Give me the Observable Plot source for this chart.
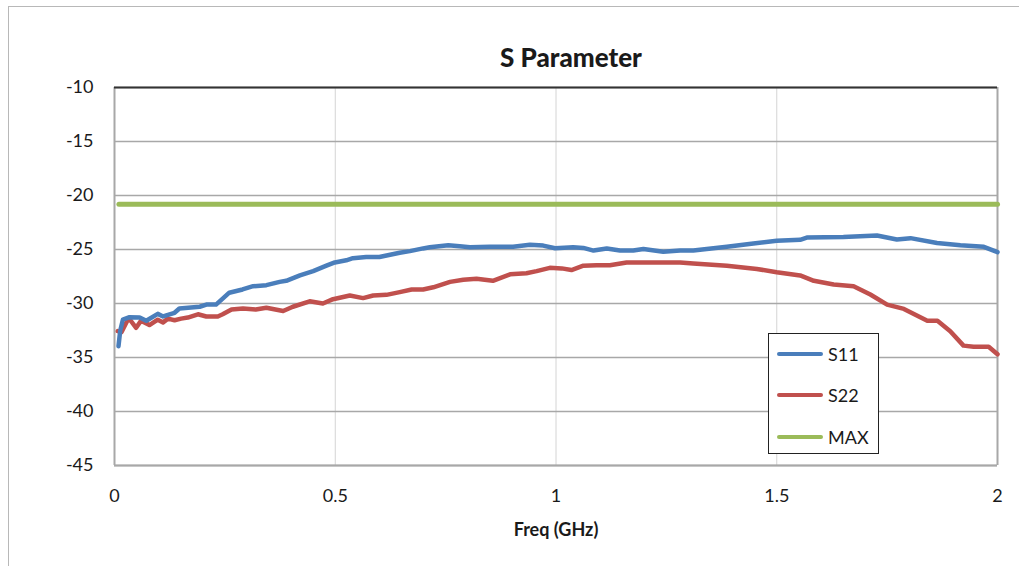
<!DOCTYPE html>
<html>
<head>
<meta charset="utf-8">
<script src="https://cdn.jsdelivr.net/npm/d3@7"></script>
<script src="https://cdn.jsdelivr.net/npm/@observablehq/plot@0.6"></script>
<style>
  html, body { margin: 0; padding: 0; background: #fff; }
  body { width: 1019px; height: 566px; overflow: hidden; position: relative; font-family: Lato, "Open Sans", sans-serif; }
  #border { position: absolute; left: 8px; top: 6px; right: -10px; bottom: -10px; border-left: 1.5px solid #b8b8b8; border-top: 1.5px solid #b8b8b8; }
  #title { position: relative; height: 70px; }
  #title span { position: absolute; left: 571px; top: 40px; transform: translateX(-50%); font-weight: 900; font-size: 26px; color: #1a1a1a; white-space: nowrap; line-height: 34px; }
  #chart { position: relative; }
  #legend { position: absolute; left: 768px; top: 333px; width: 111px; height: 121px; border: 1px solid #222; background: #fff; box-sizing: border-box; }
  .item { position: absolute; left: 8px; height: 20px; display: flex; align-items: center; }
  .swatch { width: 46px; height: 4.5px; border-radius: 2px; margin-right: 5px; }
  .lab { font-size: 18px; color: #1a1a1a; }
</style>
</head>
<body>
<div id="border"></div>
<div id="title"><span>S Parameter</span></div>
<div id="chart"></div>
<div id="legend"></div>
<script>
const xTicks = [0, 0.5, 1, 1.5, 2];
const yTicks = [-45, -40, -35, -30, -25, -20, -15, -10];

const s11Freq = [0.009,0.013,0.019,0.034,0.057,0.072,0.098,0.11,0.136,0.147,0.193,0.208,0.23,0.26,0.29,0.314,0.344,0.374,0.389,0.42,0.45,0.48,0.499,0.525,0.54,0.57,0.60,0.646,0.669,0.699,0.714,0.756,0.782,0.805,0.85,0.903,0.941,0.971,0.998,1.039,1.062,1.085,1.115,1.145,1.175,1.198,1.243,1.281,1.311,1.387,1.447,1.5,1.553,1.568,1.651,1.727,1.772,1.803,1.863,1.916,1.969,2.0];
const s11 = [-33.95,-32.5,-31.5,-31.27,-31.3,-31.6,-30.96,-31.2,-30.86,-30.46,-30.3,-30.1,-30.1,-29.0,-28.7,-28.4,-28.3,-28.0,-27.9,-27.4,-27.0,-26.5,-26.2,-26.0,-25.8,-25.7,-25.7,-25.3,-25.15,-24.9,-24.8,-24.6,-24.7,-24.8,-24.75,-24.75,-24.57,-24.64,-24.88,-24.8,-24.85,-25.1,-24.9,-25.1,-25.1,-24.95,-25.2,-25.1,-25.1,-24.75,-24.44,-24.2,-24.1,-23.9,-23.85,-23.7,-24.07,-23.95,-24.4,-24.6,-24.75,-25.25];

const s22Freq = [0.0075,0.016,0.03,0.036,0.049,0.06,0.079,0.098,0.11,0.121,0.136,0.151,0.166,0.189,0.208,0.234,0.245,0.265,0.291,0.32,0.344,0.382,0.404,0.442,0.472,0.495,0.533,0.563,0.586,0.616,0.646,0.673,0.699,0.722,0.76,0.79,0.82,0.857,0.896,0.933,0.956,0.986,1.013,1.035,1.062,1.092,1.122,1.16,1.198,1.243,1.281,1.311,1.387,1.455,1.5,1.553,1.584,1.629,1.674,1.712,1.75,1.788,1.841,1.864,1.893,1.923,1.946,1.98,2.0];
const s22 = [-32.56,-32.65,-31.5,-31.55,-32.25,-31.6,-32.0,-31.5,-31.75,-31.4,-31.55,-31.4,-31.3,-31.0,-31.2,-31.2,-31.0,-30.56,-30.46,-30.56,-30.4,-30.7,-30.3,-29.8,-30.0,-29.6,-29.26,-29.5,-29.26,-29.2,-28.95,-28.7,-28.7,-28.5,-28.0,-27.8,-27.7,-27.9,-27.3,-27.2,-27.0,-26.7,-26.75,-26.9,-26.5,-26.45,-26.45,-26.2,-26.2,-26.2,-26.2,-26.3,-26.5,-26.8,-27.1,-27.4,-27.9,-28.24,-28.4,-29.17,-30.1,-30.5,-31.6,-31.6,-32.56,-33.9,-34.0,-34.0,-34.7];

const maxFreq = [0.01, 2.0];
const maxVal = [-20.8, -20.8];

const seriesNames = ["S11", "S22", "MAX"];
const seriesColors = ["#4a7ebb", "#c0504d", "#9bbb59"];

const toRows = (fs, vs) => fs.map((f, i) => ({f, v: vs[i]}));
const rowsS11 = toRows(s11Freq, s11);
const rowsS22 = toRows(s22Freq, s22);
const rowsMax = toRows(maxFreq, maxVal);

const font = 'Lato, "Open Sans", sans-serif';

const plot = Plot.plot({
  width: 1019,
  height: 496,
  marginLeft: 114,
  marginRight: 22,
  marginTop: 17,
  marginBottom: 101,
  style: {fontFamily: font, fontSize: "17px", color: "#1a1a1a", background: "transparent"},
  x: {domain: [0, 2]},
  y: {domain: [-45, -10]},
  marks: [
    Plot.gridX(xTicks, {stroke: "#d4d4d4", strokeOpacity: 1, strokeWidth: 1}),
    Plot.gridY(yTicks, {stroke: "#a8a8a8", strokeOpacity: 1, strokeWidth: 1.6}),
    Plot.ruleX([0, 2], {stroke: "#a8a8a8", strokeWidth: 2}),
    Plot.ruleY([-45], {stroke: "#a8a8a8", strokeWidth: 2}),
    Plot.ruleY([-10], {stroke: "#333", strokeWidth: 2}),
    Plot.axisX(xTicks, {tickSize: 0, tickPadding: 24, label: null, tickFormat: d => String(d), fontSize: 18}),
    Plot.axisY(yTicks, {tickSize: 0, tickPadding: 21, label: null, tickFormat: d => String(d), fontSize: 18}),
    Plot.text(["Freq (GHz)"], {frameAnchor: "bottom", dy: 70, text: d => d, fontWeight: "bold", fontSize: 18, fill: "#1a1a1a"}),
    Plot.line(rowsMax, {x: "f", y: "v", stroke: seriesColors[2], strokeWidth: 5, strokeLinecap: "round"}),
    Plot.line(rowsS22, {x: "f", y: "v", stroke: seriesColors[1], strokeWidth: 4.5, strokeLinejoin: "round", strokeLinecap: "round"}),
    Plot.line(rowsS11, {x: "f", y: "v", stroke: seriesColors[0], strokeWidth: 4.5, strokeLinejoin: "round", strokeLinecap: "round"})
  ]
});
document.getElementById("chart").appendChild(plot);

const legend = document.getElementById("legend");
const legendTops = [10, 51, 93];
seriesNames.forEach((name, i) => {
  const it = document.createElement("div");
  it.className = "item";
  it.style.top = legendTops[i] + "px";
  it.innerHTML = `<div class="swatch" style="background:${seriesColors[i]}"></div><span class="lab">${name}</span>`;
  legend.appendChild(it);
});
</script>
</body>
</html>
